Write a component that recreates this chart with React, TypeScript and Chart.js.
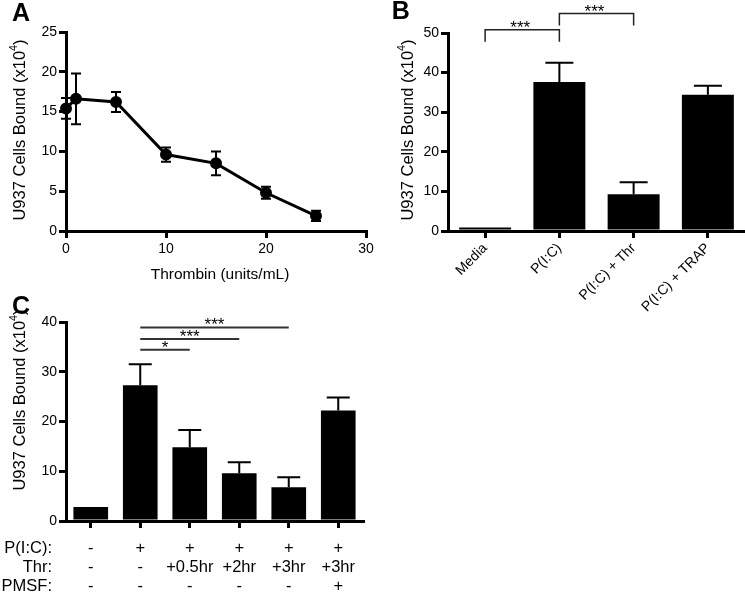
import React, { useEffect, useRef } from 'react';
import { Chart, registerables } from 'chart.js';

Chart.register(...registerables);

const FONT = '"Liberation Sans", Arial, Helvetica, sans-serif';

// ---------- Panel A: dose response ----------
const thrombinUnits = [0, 1, 5, 10, 15, 20, 25];
const cellsBoundA = [15.4, 16.6, 16.2, 9.6, 8.5, 4.8, 1.9];
const semA = [1.3, 3.2, 1.25, 0.9, 1.5, 0.75, 0.65];
const xTitleA = 'Thrombin (units/mL)';

// ---------- Panel B ----------
const conditionsB = ['Media', 'P(I:C)', 'P(I:C) + Thr', 'P(I:C) + TRAP'];
const cellsBoundB = [0.9, 37.6, 9.3, 34.4];
const semB = [0, 4.9, 3.0, 2.3];
const sigPairsB = [[0, 1], [1, 2]];
const sigLabelsB = ['***', '***'];

// ---------- Panel C ----------
const conditionsC = ['Media', 'P(I:C)', 'P(I:C)+Thr 0.5hr', 'P(I:C)+Thr 2hr', 'P(I:C)+Thr 3hr', 'P(I:C)+Thr 3hr+PMSF'];
const cellsBoundC = [2.8, 27.3, 14.8, 9.6, 6.8, 22.2];
const semC = [0, 4.2, 3.5, 2.2, 2.0, 2.6];
const tableRowLabels = ['P(I:C):', 'Thr:', 'PMSF:'];
const rowPIC = ['-', '+', '+', '+', '+', '+'];
const rowThr = ['-', '-', '+0.5hr', '+2hr', '+3hr', '+3hr'];
const rowPMSF = ['-', '-', '-', '-', '-', '+'];
const sigPairsC = [[1, 4], [1, 3], [1, 2]];
const sigLabelsC = ['***', '***', '*'];

const yTitleMain = 'U937 Cells Bound (x10';
const yTitleSup = '4';
const yTitleEnd = ')';

function axisStyle(size = 14) {
  return {
    border: { display: true, color: '#000', width: 3 },
    grid: {
      drawOnChartArea: false,
      drawTicks: true,
      tickLength: 7,
      tickWidth: 3,
      tickColor: '#000',
      color: '#000',
      lineWidth: 3,
    },
    ticks: { color: '#000', font: { family: FONT, size }, padding: 2 },
  };
}

function drawYTitle(ctx: CanvasRenderingContext2D, cx: number, cy: number, size: number) {
  ctx.save();
  ctx.translate(cx, cy);
  ctx.rotate(-Math.PI / 2);
  ctx.fillStyle = '#000';
  ctx.textAlign = 'left';
  ctx.textBaseline = 'middle';
  const mainFont = `${size}px ${FONT}`;
  const supFont = `${size * 0.65}px ${FONT}`;
  ctx.font = mainFont;
  const w1 = ctx.measureText(yTitleMain).width;
  const w3 = ctx.measureText(yTitleEnd).width;
  ctx.font = supFont;
  const w2 = ctx.measureText(yTitleSup).width;
  let x = -(w1 + w2 + w3) / 2;
  ctx.font = mainFont;
  ctx.fillText(yTitleMain, x, 0);
  x += w1;
  ctx.font = supFont;
  ctx.fillText(yTitleSup, x, -size * 0.38);
  x += w2;
  ctx.font = mainFont;
  ctx.fillText(yTitleEnd, x, 0);
  ctx.restore();
}

function drawLetter(ctx: CanvasRenderingContext2D, letter: string, x: number, y: number) {
  ctx.save();
  ctx.fillStyle = '#000';
  ctx.font = `bold 25px ${FONT}`;
  ctx.textAlign = 'left';
  ctx.textBaseline = 'alphabetic';
  ctx.fillText(letter, x, y);
  ctx.restore();
}

function errorBars(errors: number[], capWidth: number, both: boolean, lineWidth: number) {
  return {
    id: 'errorBars',
    afterDatasetsDraw(chart: any) {
      const meta = chart.getDatasetMeta(0);
      const yScale = chart.scales.y;
      const data = chart.data.datasets[0].data;
      const ctx = chart.ctx;
      ctx.save();
      ctx.strokeStyle = '#000';
      ctx.lineWidth = lineWidth;
      meta.data.forEach((el: any, i: number) => {
        const err = errors[i];
        if (!err) return;
        const raw = data[i];
        const v = typeof raw === 'number' ? raw : raw.y;
        const x = el.x;
        const yTop = yScale.getPixelForValue(v + err);
        const yBot = yScale.getPixelForValue(both ? v - err : v);
        ctx.beginPath();
        ctx.moveTo(x, yBot);
        ctx.lineTo(x, yTop);
        ctx.moveTo(x - capWidth / 2, yTop);
        ctx.lineTo(x + capWidth / 2, yTop);
        if (both) {
          ctx.moveTo(x - capWidth / 2, yBot);
          ctx.lineTo(x + capWidth / 2, yBot);
        }
        ctx.stroke();
      });
      ctx.restore();
    },
  };
}

function configA(): any {
  return {
    type: 'line',
    data: {
      datasets: [
        {
          data: thrombinUnits.map((x, i) => ({ x, y: cellsBoundA[i] })),
          borderColor: '#000',
          backgroundColor: '#000',
          borderWidth: 3,
          pointRadius: 4.5,
          pointBackgroundColor: '#000',
          pointBorderColor: '#000',
          tension: 0,
          clip: false,
        },
      ],
    },
    options: {
      responsive: false,
      animation: false,
      devicePixelRatio: 1,
      layout: { padding: { top: 32, right: 19, left: 0, bottom: 0 } },
      plugins: { legend: { display: false }, tooltip: { enabled: false } },
      scales: {
        x: {
          type: 'linear',
          min: 0,
          max: 30,
          ...axisStyle(14),
          ticks: { ...axisStyle(14).ticks, stepSize: 10, padding: 3 },
          afterFit: (s: any) => { s.height = 59; },
        },
        y: {
          type: 'linear',
          min: 0,
          max: 25,
          ...axisStyle(14),
          ticks: { ...axisStyle(14).ticks, stepSize: 5 },
          afterFit: (s: any) => { s.width = 66; },
        },
      },
    },
    plugins: [
      errorBars(semA, 10, true, 2),
      {
        id: 'annotA',
        afterDraw(chart: any) {
          const ctx = chart.ctx;
          drawLetter(ctx, 'A', 12, 20.5);
          drawYTitle(ctx, 20, 130, 16.5);
          ctx.save();
          ctx.fillStyle = '#000';
          ctx.font = `15.5px ${FONT}`;
          ctx.textAlign = 'center';
          ctx.textBaseline = 'middle';
          ctx.fillText(xTitleA, 220, 275);
          ctx.restore();
        },
      },
    ],
  };
}

function configB(): any {
  const x0 = 370;
  return {
    type: 'bar',
    data: {
      labels: conditionsB,
      datasets: [
        {
          data: cellsBoundB,
          backgroundColor: '#000',
          borderWidth: 0,
          barPercentage: 0.7,
          categoryPercentage: 1,
        },
      ],
    },
    options: {
      responsive: false,
      animation: false,
      devicePixelRatio: 1,
      layout: { padding: { top: 33, right: 0, left: 0, bottom: 0 } },
      plugins: { legend: { display: false }, tooltip: { enabled: false } },
      scales: {
        x: {
          ...axisStyle(14),
          grid: { ...axisStyle(14).grid, offset: false },
          ticks: { ...axisStyle(14).ticks, minRotation: 45, maxRotation: 45, padding: 2 },
          afterFit: (s: any) => { s.height = 104; },
        },
        y: {
          min: 0,
          max: 50,
          ...axisStyle(14),
          ticks: { ...axisStyle(14).ticks, stepSize: 10 },
          afterFit: (s: any) => { s.width = 78; },
        },
      },
    },
    plugins: [
      errorBars(semB, 28, false, 2),
      {
        id: 'annotB',
        afterDraw(chart: any) {
          const ctx = chart.ctx;
          const xs = chart.scales.x;
          const ys = chart.scales.y;
          drawLetter(ctx, 'B', 391.7 - x0, 18.5);
          drawYTitle(ctx, 408 - x0, 130, 16.5);
          const levels = [50.8, 54.9];
          const drop = 3.0;
          ctx.save();
          ctx.strokeStyle = '#222';
          ctx.lineWidth = 1.5;
          ctx.fillStyle = '#000';
          ctx.font = `17px ${FONT}`;
          ctx.textAlign = 'center';
          ctx.textBaseline = 'alphabetic';
          sigPairsB.forEach(([a, b], i) => {
            const xa = xs.getPixelForValue(a);
            const xb = xs.getPixelForValue(b);
            const yl = ys.getPixelForValue(levels[i]);
            const yd = ys.getPixelForValue(levels[i] - drop);
            ctx.beginPath();
            ctx.moveTo(xa, yd);
            ctx.lineTo(xa, yl);
            ctx.lineTo(xb, yl);
            ctx.lineTo(xb, yd);
            ctx.stroke();
            ctx.fillText(sigLabelsB[i], (xa + xb) / 2 - 2, yl + 3);
          });
          ctx.restore();
        },
      },
    ],
  };
}

function configC(): any {
  const y0 = 290;
  return {
    type: 'bar',
    data: {
      labels: conditionsC,
      datasets: [
        {
          data: cellsBoundC,
          backgroundColor: '#000',
          borderWidth: 0,
          barPercentage: 0.7,
          categoryPercentage: 1,
        },
      ],
    },
    options: {
      responsive: false,
      animation: false,
      devicePixelRatio: 1,
      layout: { padding: { top: 32, right: 7, left: 0, bottom: 0 } },
      plugins: { legend: { display: false }, tooltip: { enabled: false } },
      scales: {
        x: {
          ...axisStyle(14),
          grid: { ...axisStyle(14).grid, offset: false },
          ticks: { ...axisStyle(14).ticks, display: false },
          afterFit: (s: any) => { s.height = 74; },
        },
        y: {
          min: 0,
          max: 40,
          ...axisStyle(14),
          ticks: { ...axisStyle(14).ticks, stepSize: 10 },
          afterFit: (s: any) => { s.width = 66; },
        },
      },
    },
    plugins: [
      errorBars(semC, 23, false, 2),
      {
        id: 'annotC',
        afterDraw(chart: any) {
          const ctx = chart.ctx;
          const xs = chart.scales.x;
          const ys = chart.scales.y;
          drawLetter(ctx, 'C', 12, 313.5 - y0);
          drawYTitle(ctx, 20, 400 - y0, 16.5);
          const levels = [38.9, 36.6, 34.4];
          ctx.save();
          ctx.strokeStyle = '#333';
          ctx.lineWidth = 2;
          ctx.fillStyle = '#000';
          ctx.font = `17px ${FONT}`;
          ctx.textAlign = 'center';
          ctx.textBaseline = 'alphabetic';
          sigPairsC.forEach(([a, b], i) => {
            const xa = xs.getPixelForValue(a);
            const xb = xs.getPixelForValue(b);
            const yl = ys.getPixelForValue(levels[i]);
            ctx.beginPath();
            ctx.moveTo(xa, yl);
            ctx.lineTo(xb, yl);
            ctx.stroke();
            ctx.fillText(sigLabelsC[i], (xa + xb) / 2, yl + 3);
          });
          // condition table
          const rows = [rowPIC, rowThr, rowPMSF];
          const rowY = [548, 567.5, 586.5].map((v) => v - y0);
          ctx.font = `16.5px ${FONT}`;
          ctx.textBaseline = 'middle';
          rows.forEach((row, r) => {
            ctx.textAlign = 'right';
            ctx.fillText(tableRowLabels[r], 52, rowY[r]);
            ctx.textAlign = 'center';
            row.forEach((txt, i) => {
              ctx.fillText(txt, xs.getPixelForValue(i), rowY[r]);
            });
          });
          ctx.restore();
        },
      },
    ],
  };
}

function ChartCanvas(props: { left: number; top: number; width: number; height: number; make: () => any }) {
  const ref = useRef<HTMLCanvasElement>(null);
  useEffect(() => {
    const chart = new Chart(ref.current as HTMLCanvasElement, props.make());
    return () => chart.destroy();
  }, []);
  const { left, top, width, height } = props;
  return (
    <canvas
      ref={ref}
      width={width}
      height={height}
      style={{ position: 'absolute', left, top, width, height }}
    />
  );
}

export default function App() {
  return (
    <div
      style={{
        position: 'absolute',
        left: 0,
        top: 0,
        width: 745,
        height: 595,
        background: '#fff',
        overflow: 'hidden',
      }}
    >
      <ChartCanvas left={0} top={0} width={385} height={290} make={configA} />
      <ChartCanvas left={370} top={0} width={375} height={335} make={configB} />
      <ChartCanvas left={0} top={290} width={370} height={305} make={configC} />
    </div>
  );
}
